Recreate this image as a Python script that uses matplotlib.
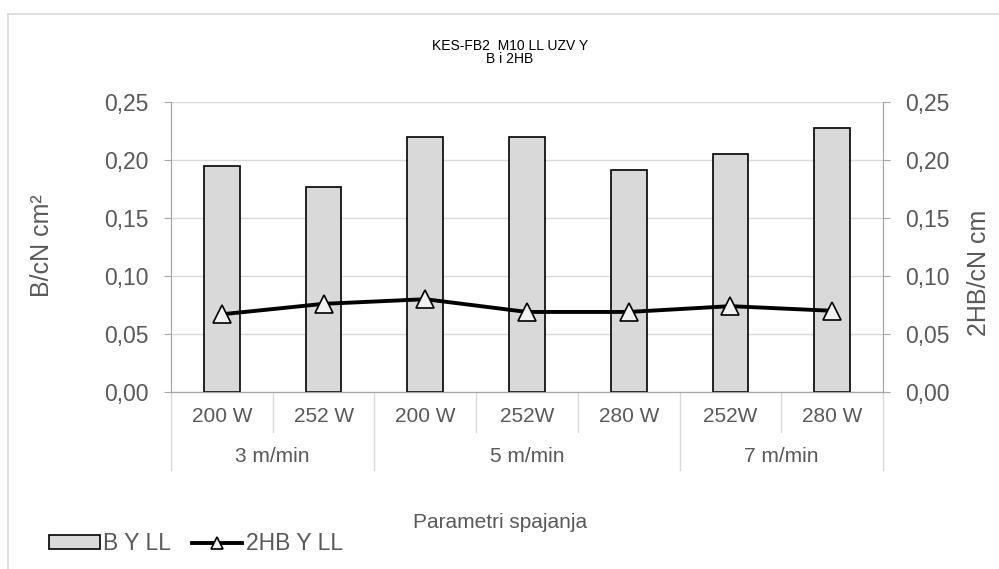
import matplotlib
matplotlib.use('Agg')
import matplotlib.pyplot as plt
from matplotlib.ticker import FuncFormatter, MultipleLocator
from matplotlib.transforms import blended_transform_factory
from matplotlib.lines import Line2D
from matplotlib.patches import Patch

plt.rcParams['font.family'] = ['Liberation Sans', 'DejaVu Sans']

# data
power = ['200 W', '252 W', '200 W', '252W', '280 W', '252W', '280 W']
speed = ['3 m/min', '5 m/min', '7 m/min']
speed_count = [2, 3, 2]
b_values = [0.195, 0.177, 0.220, 0.220, 0.191, 0.205, 0.228]
hb2_values = [0.067, 0.076, 0.080, 0.069, 0.069, 0.074, 0.070]

W, H = 999, 569
txt = '#595959'
axis_col = '#a6a6a6'
grid_col = '#d9d9d9'

fig = plt.figure(figsize=(W / 100, H / 100), dpi=100)
ax = fig.add_axes([171 / W, 1 - 392 / H, (883 - 171) / W, (392 - 102) / H])
ax2 = ax.twinx()

x = list(range(len(power)))
ax.bar(x, b_values, width=0.35, color='#d9d9d9', edgecolor='black',
       linewidth=1.2, zorder=2, label='B Y LL')
ax2.plot(x, hb2_values, color='black', lw=2.8, marker='^', ms=13,
         mfc='#f2f2f2', mec='black', mew=1.2, label='2HB Y LL')

fmt = FuncFormatter(lambda v, p: f'{v:.2f}'.replace('.', ','))
for a in (ax, ax2):
    a.set_ylim(0, 0.25)
    a.yaxis.set_major_locator(MultipleLocator(0.05))
    a.yaxis.set_major_formatter(fmt)
    a.tick_params(axis='y', labelsize=16.5, labelcolor=txt, color=axis_col,
                  length=5, pad=11)
    a.spines['top'].set_visible(False)
    for s in ('left', 'right', 'bottom'):
        a.spines[s].set_color(axis_col)
ax.set_xlim(-0.5, 6.5)
ax.set_xticks([])
ax.yaxis.grid(True, color=grid_col, lw=1)
ax.set_axisbelow(True)

# two-level category axis
tr = blended_transform_factory(ax.transData, ax.transAxes)
edges = [0]
for c in speed_count:
    edges.append(edges[-1] + c)
for b in range(len(power) + 1):
    y_end = -0.269 if b in edges else -0.138
    ax.plot([b - 0.5, b - 0.5], [0, y_end], transform=tr, clip_on=False,
            color=grid_col, lw=1)
for i, lab in enumerate(power):
    ax.text(i, -0.086, lab, transform=tr, ha='center', va='center',
            fontsize=15, color=txt)
for g, lab in enumerate(speed):
    mid = (edges[g] + edges[g + 1] - 1) / 2
    ax.text(mid, -0.224, lab, transform=tr, ha='center', va='center',
            fontsize=15, color=txt)

# titles and labels
fig.text(510 / W, 1 - 50 / H, 'KES-FB2  M10 LL UZV Y', ha='center', va='baseline',
         fontsize=10, color='black')
fig.text(510 / W, 1 - 63 / H, 'B i 2HB', ha='center', va='baseline',
         fontsize=10, color='black')
fig.text(42 / W, 1 - 246 / H, 'B/cN cm²', rotation=90, ha='center', va='center',
         fontsize=18, color=txt)
fig.text(979 / W, 1 - 273 / H, '2HB/cN cm', rotation=90, ha='center', va='center',
         fontsize=18, color=txt)
fig.text(500 / W, 1 - 522 / H, 'Parametri spajanja', ha='center', va='center',
         fontsize=15, color=txt)

handles = [Patch(facecolor='#d9d9d9', edgecolor='black', linewidth=1.2),
           Line2D([], [], color='black', lw=2.8, marker='^', ms=9,
                  mfc='#f2f2f2', mec='black', mew=1.2)]
leg = fig.legend(handles, ['B Y LL', '2HB Y LL'], loc='center left',
                 bbox_to_anchor=(38 / W, 1 - 544 / H), ncol=2, frameon=False,
                 fontsize=16.5, handlelength=2.2, handleheight=0.55,
                 handletextpad=0.15, columnspacing=0.9, borderpad=0)
for t in leg.get_texts():
    t.set_color(txt)

# chart area border (cut off at right and bottom)
fig.add_artist(Line2D([8 / W, 1], [1 - 14 / H, 1 - 14 / H], color=grid_col, lw=1.2))
fig.add_artist(Line2D([8 / W, 8 / W], [0, 1 - 14 / H], color=grid_col, lw=1.2))

fig.savefig('out.png', dpi=100)
